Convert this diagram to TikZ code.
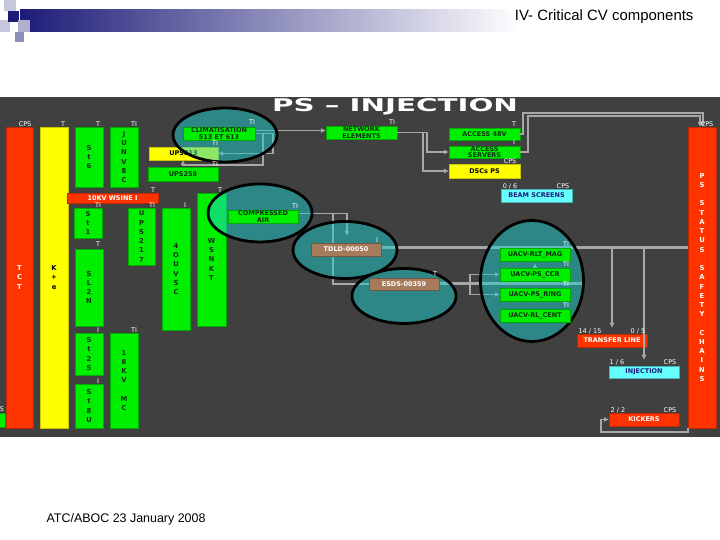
\documentclass[tikz,border=0pt]{standalone}
\usepackage{fontspec}
\usepackage{graphicx}
\setmainfont{Liberation Sans}
\newfontfamily\dejav{DejaVu Sans}
\usetikzlibrary{arrows.meta,shapes.geometric}
\definecolor{bg}{HTML}{404040}
\definecolor{cgreen}{HTML}{00EE00}
\definecolor{cgreend}{HTML}{00A800}
\definecolor{cred}{HTML}{FF3300}
\definecolor{credd}{HTML}{C02800}
\definecolor{cyel}{HTML}{FFFF00}
\definecolor{cyeld}{HTML}{C8C800}
\definecolor{ccyan}{HTML}{66FFFF}
\definecolor{cteal}{HTML}{1ECFCF}
\definecolor{cbrown}{HTML}{A67B5B}
\definecolor{cline}{HTML}{A8A8A8}
\definecolor{navy}{HTML}{1C1C78}
\definecolor{gtext}{HTML}{103010}
\newcommand{\bfnt}{\fontsize{6.5}{6.5}\selectfont\dejav\bfseries}
\newcommand{\vfnt}{\fontsize{6.8}{9.3}\selectfont\dejav\bfseries}
\newcommand{\lfnt}{\fontsize{6.5}{7}\selectfont\dejav}
\newcommand{\mybox}[7]{%
  \pgfmathsetmacro{\mybw}{#5-#3}\pgfmathsetmacro{\mybh}{#6-#4}%
  \node[#1, minimum width=\mybw bp, minimum height=\mybh bp] (#2) at ({(#3+#5)/2},{(#4+#6)/2}) {#7};}
\tikzset{
  anybox/.style={inner sep=0pt, outer sep=0pt, line width=0.6pt, align=center, font=\bfnt},
  gbox/.style={anybox, fill=cgreen, draw=cgreend, text=gtext},
  rbox/.style={anybox, fill=cred, draw=credd, text=white},
  ybox/.style={anybox, fill=cyel, draw=cyeld, text=black},
  cbox/.style={anybox, fill=ccyan, draw=ccyan!70!black, text=navy},
  bbox/.style={anybox, fill=cbrown, draw=cbrown!70!black, text=white},
  vtext/.style={font=\vfnt},
  lab/.style={text=white, font=\lfnt, inner sep=0pt},
  ell/.style={ellipse, inner sep=0pt, fill=cteal, fill opacity=0.5, draw=black, line width=2.8pt},
  conn/.style={draw=cline, line width=1.5bp, -{Latex[length=5bp,width=5bp]}},
  plain/.style={draw=cline, line width=1.5bp},
}
\pgfdeclarelayer{bgl}\pgfdeclarelayer{lns}\pgfdeclarelayer{ovl}
\pgfsetlayers{bgl,lns,ovl,main}
\begin{document}
\begin{tikzpicture}[x=1bp,y=-1bp]
\begin{pgfonlayer}{bgl}
\useasboundingbox (0,0) rectangle (720,540);
\fill[white] (0,0) rectangle (720,540);
% header
\shade[left color=navy, right color=white] (20,10) rectangle (520,32);
\fill[navy!25] (4,0) rectangle (16,11);
\fill[navy!25] (0,20) rectangle (10,32);
\fill[navy] (8,11) rectangle (19,22);
\fill[navy!35] (18,20) rectangle (30,32);
\fill[navy!50] (15,32) rectangle (24,42);
\node[anchor=base east, font=\fontsize{15}{18}\selectfont] (ttl) at (697,21) {IV- Critical CV components};
\node[anchor=base west, font=\fontsize{12.5}{15}\selectfont] (foot) at (43,523) {ATC/ABOC 23 January 2008};
% panel
\fill[bg] (0,97) rectangle (720,437);
\node[text=white, inner sep=0pt, anchor=base] (pstitle) at (395,112) {\resizebox{246bp}{13bp}{\dejav\bfseries PS – INJECTION}};
% outer boxes
\mybox{rbox,vtext}{lbar}{6}{127}{33}{428}{T\\C\\T}
\mybox{ybox,vtext}{ybar}{40}{127}{68}{428}{K\\+\\e}
\mybox{gbox,vtext}{s6}{75}{127}{103}{187}{S\\t\\6}
\mybox{gbox,vtext}{junv}{110}{127}{138}{187}{J\\U\\N\\V\\8\\C}
\mybox{ybox}{ups813}{149}{147}{218}{160}{UPS813}
\mybox{gbox}{ups258}{148}{167}{218}{181}{UPS258}
\mybox{rbox}{kv}{67}{193}{158}{203}{10KV WSINE I}
\mybox{gbox,vtext}{s1}{74}{208}{102}{238}{S\\t\\1}
\mybox{gbox,vtext}{ups217}{128}{208}{155}{265}{U\\P\\S\\2\\1\\7}
\mybox{gbox,vtext}{sl2n}{75}{249}{103}{326}{S\\L\\2\\N}
\mybox{gbox,vtext}{ouvsc}{162}{208}{190}{330}{4\\O\\U\\V\\S\\C}
\mybox{gbox,vtext}{wsnkt}{197}{193}{226}{326}{W\\S\\N\\K\\T}
\mybox{gbox,vtext}{s25}{75}{333}{103}{375}{S\\t\\2\\5}
\mybox{gbox,vtext}{kv18}{110}{333}{138}{428}{1\\8\\K\\V\\[9.3bp]M\\C}
\mybox{gbox,vtext}{s8u}{75}{384}{103}{428}{S\\t\\8\\U}
\mybox{gbox}{edge}{-2}{413}{5}{427}{}
\mybox{gbox}{ne}{326}{126}{397}{139}{NETWORK\\ELEMENTS}
\mybox{gbox}{a48}{449}{128}{520}{140}{ACCESS 48V}
\mybox{gbox}{as}{449}{146}{520}{158}{ACCESS\\SERVERS}
\mybox{ybox}{dsc}{449}{164}{520}{178}{DSCs PS}
\mybox{cbox}{beam}{501}{189}{572}{202}{BEAM SCREENS}
\mybox{rbox,vtext}{rbar}{688}{127}{716}{428}{P\\S\\[9bp]S\\T\\A\\T\\U\\S\\[9bp]S\\A\\F\\E\\T\\Y\\[9bp]C\\H\\A\\I\\N\\S}
\mybox{rbox}{tl}{577}{334}{647}{347}{TRANSFER LINE}
\mybox{cbox}{inj}{609}{366}{679}{378}{INJECTION}
\mybox{rbox}{kick}{609}{413}{679}{426}{KICKERS}
\end{pgfonlayer}
% inner boxes (main layer)
\mybox{gbox}{clim}{183}{127}{255}{140}{CLIMATISATION\\513 ET 613}
\mybox{gbox}{ca}{228}{210}{298}{223}{COMPRESSED\\AIR}
\mybox{bbox}{tdld}{311}{243}{381}{256}{TDLD-00050}
\mybox{bbox}{esds}{369}{278}{439}{290}{ESDS-00359}
\mybox{gbox}{rlt}{500}{248}{570}{261}{UACV-RLT\_MAG}
\mybox{gbox}{pscc}{500}{268}{570}{281}{UACV-PS\_CCR}
\mybox{gbox}{psring}{500}{288}{570}{301}{UACV-PS\_RING}
\mybox{gbox}{rlcent}{500}{309}{570}{322}{UACV-RL\_CENT}
% overlay ellipses
\begin{pgfonlayer}{ovl}
\node[ell, minimum width=104bp, minimum height=54bp] (e1) at (225,135) {};
\node[ell, minimum width=104bp, minimum height=58bp] (e2) at (260,213) {};
\node[ell, minimum width=104bp, minimum height=57bp] (e3) at (345,250) {};
\node[ell, minimum width=104bp, minimum height=55bp] (e4) at (404,296) {};
\node[ell, minimum width=103bp, minimum height=121bp] (e5) at (532,281) {};
\end{pgfonlayer}
% connectors
\begin{pgfonlayer}{lns}
\coordinate (cB) at (183,165);
\coordinate (cx1) at (333,0);
\coordinate (cx2) at (347,236);
\coordinate (cx3) at (470,0);
\coordinate (cx4) at (535,0);
\draw[conn] ([yshift=3bp]clim.east) -- ([yshift=3bp]clim.east -| ne.west);
\draw[conn] (clim.east) -- ++(18,0) |- (ups813.east);
\draw[conn] (clim.east) -- ++(8,0) |- (cB) -- (cB |- ups813.south);
\draw[conn] (ne.east) -- ++(30,0) |- (as.west);
\draw[conn] (ne.east) -- ++(26,0) |- (dsc.west);
\draw[conn] (a48.east) -- ++(3,0) |- ([xshift=1bp,yshift=14bp]rbar.north) -- ([xshift=1bp]rbar.north);
\draw[conn] (as.east) -- ++(8,0) |- ([xshift=-2bp,yshift=11bp]rbar.north) -- ([xshift=-2bp]rbar.north);
\draw[conn] ([yshift=3bp]ca.east) -| (cx2);
\draw[plain] ([yshift=3bp]ca.east) -| (cx1 |- esds.west) -- (esds.west);
\draw[plain, line width=3bp] ([yshift=2bp]tdld.east) -- ([yshift=2bp]tdld.east -| rbar.west);
\draw[conn] ([yshift=2bp]tdld.east -| tl.north) -- ([yshift=6bp]tl.north);
\draw[conn] ([yshift=2bp]tdld.east -| inj.north) -- ([yshift=6bp]inj.north);
\draw[plain, line width=3bp] (esds.east) -- ++(146,0);
\draw[conn] (esds.east) -| (cx3 |- pscc.west) -- (pscc.west);
\draw[conn] (esds.east) -| (cx3 |- psring.west) -- (psring.west);
\draw[conn] (cx4 |- pscc.north) -- ([yshift=-2bp]cx4 |- rlt.south);
\draw[conn] (rbar.south west) -- ++(0,4) -| ([xshift=-8bp]kick.west) -- (kick.west);
\end{pgfonlayer}
% labels
\node[lab] (l1) at (25,124) {CPS};
\node[lab] (l2) at (63,124) {T};
\node[lab] (l3) at (98,124) {T};
\node[lab] (l4) at (134,124) {TI};
\node[lab] (l5) at (252,122) {TI};
\node[lab] (l6) at (215,143) {TI};
\node[lab] (l7) at (215,164) {TI};
\node[lab] (l8) at (153,190) {T};
\node[lab] (l9) at (98,205) {TI};
\node[lab] (l10) at (152,205) {TI};
\node[lab] (l11) at (185,205) {I};
\node[lab] (l12) at (220,190) {T};
\node[lab] (l13) at (295,206) {TI};
\node[lab] (l14) at (98,244) {T};
\node[lab] (l15) at (98,330) {I};
\node[lab] (l16) at (134,330) {TI};
\node[lab] (l17) at (98,381) {I};
\node[lab] (l18) at (392,122) {TI};
\node[lab] (l19) at (514,124) {T};
\node[lab] (l20) at (514,142) {I};
\node[lab] (l21) at (510,161) {CPS};
\node[lab] (l22) at (510,186) {0 / 6};
\node[lab] (l23) at (563,186) {CPS};
\node[lab] (l24) at (377,240) {I};
\node[lab] (l25) at (435,274) {T};
\node[lab] (l26) at (566,244) {TI};
\node[lab] (l27) at (566,264) {TI};
\node[lab] (l28) at (566,284) {TI};
\node[lab] (l29) at (566,305) {TI};
\node[lab] (l30) at (707,124) {CPS};
\node[lab] (l31) at (590,331) {14 / 15};
\node[lab] (l32) at (638,331) {0 / 5};
\node[lab] (l33) at (617,362) {1 / 6};
\node[lab] (l34) at (670,362) {CPS};
\node[lab] (l35) at (618,410) {2 / 2};
\node[lab] (l36) at (670,410) {CPS};
\node[lab] (l37) at (2,409) {S};
\end{tikzpicture}
\end{document}
